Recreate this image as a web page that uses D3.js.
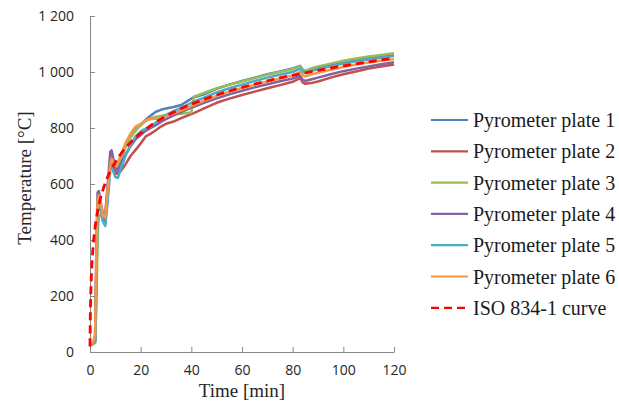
<!DOCTYPE html>
<html><head><meta charset="utf-8">
<script src="https://cdn.jsdelivr.net/npm/d3@7"></script>
<style>
html,body{margin:0;padding:0;background:#fff;}
svg{display:block;}
</style></head>
<body>
<svg id="chart" width="619" height="414"></svg>
<script>
// ---- data ----
const plateTimes = [0,1,2,2.5,3,3.5,4,5,6,7,8,8.5,9,10,11,12,14,16,18,20,22,24,26,28,30,33,36,40,41,45,50,55,60,65,70,75,80,83,84,85,88,90,95,100,105,110,115,120];
const plate1 = [25,28,40,300,520,545,530,470,455,560,680,695,670,640,645,680,740,770,795,810,830,845,858,865,870,875,882,905,910,920,940,955,968,980,992,1002,1013,1022,1008,1004,1010,1015,1025,1035,1043,1050,1056,1062];
const plate2 = [25,28,35,250,490,530,520,475,470,560,665,680,665,640,635,645,670,700,722,745,770,780,792,805,815,823,835,850,853,870,890,905,918,930,942,953,965,978,962,958,962,966,980,992,1002,1012,1020,1027];
const plate3 = [25,28,32,150,420,480,490,480,500,590,670,690,680,660,660,685,730,765,790,810,825,835,840,843,846,849,851,855,912,925,942,955,966,978,990,1000,1010,1020,1008,1005,1015,1020,1030,1040,1048,1055,1061,1067];
const plate4 = [25,28,45,380,570,575,545,500,480,600,715,720,700,655,650,670,705,735,760,775,790,800,810,822,832,845,857,873,876,890,906,920,933,945,956,967,977,986,972,968,975,980,992,1003,1012,1020,1028,1035];
const plate5 = [25,28,35,220,500,540,520,470,450,540,650,665,650,625,622,650,700,740,770,788,798,805,820,835,847,860,872,890,894,908,927,942,955,968,980,990,1000,1012,1000,997,1005,1010,1020,1030,1038,1045,1051,1057];
const plate6 = [25,30,60,350,540,560,550,490,480,580,670,690,685,665,675,700,745,780,805,815,828,832,833,836,842,852,862,878,882,898,915,930,943,955,966,977,988,1000,988,985,993,997,1008,1018,1027,1034,1040,1046];
const isoTimes = [0,0.1,0.25,0.5,0.75,1,1.5,2,3,4,5,6,7,8,10,12,15,17.5,20,25,30,35,40,45,50,55,60,65,70,75,80,85,90,95,100,105,110,115,120];
const isoCurve = [20,108,185,261,312,349,404,445,502,544,576,603,626,645,678,705,739,762,781,815,842,865,885,902,918,932,945,957,968,979,988,997,1006,1014,1022,1029,1036,1043,1049];
const seriesNames = ["Pyrometer plate 1","Pyrometer plate 2","Pyrometer plate 3","Pyrometer plate 4","Pyrometer plate 5","Pyrometer plate 6","ISO 834-1 curve"];
const xTicks = [0,20,40,60,80,100,120];
const yTicks = [0,200,400,600,800,1000,1200];
const xTitle = "Time [min]";
const yTitle = "Temperature [°C]";

// ---- styles ----
const colors = ["#4F81BD","#C0504D","#9BBB59","#8064A2","#4BACC6","#F79646","#FF0000"];
const axisColor = "#868686";

const svg = d3.select("#chart");
const m = {left:90, right:394, top:16, bottom:352};
const x = d3.scaleLinear().domain([0,120]).range([m.left,m.right]);
const y = d3.scaleLinear().domain([0,1200]).range([m.bottom,m.top]);

const fmt = d => d3.format(",")(d).replace(",", " ");

// axes
const xAxis = d3.axisBottom(x).tickValues(xTicks).tickSizeInner(-5).tickSizeOuter(0).tickPadding(13);
const yAxis = d3.axisLeft(y).tickValues(yTicks).tickSizeInner(-5).tickSizeOuter(0).tickPadding(16).tickFormat(fmt);

const gx = svg.append("g").attr("transform",`translate(0,${m.bottom})`).call(xAxis);
const gy = svg.append("g").attr("transform",`translate(${m.left},0)`).call(yAxis);
[gx,gy].forEach(g=>{
  g.selectAll("path.domain").attr("stroke",axisColor).attr("stroke-width",1);
  g.selectAll(".tick line").attr("stroke",axisColor).attr("stroke-width",1);
  g.selectAll(".tick text").attr("fill","#262626").style("font-family","'Open Sans', sans-serif").style("font-size","14px");
});

// titles
svg.append("text").attr("x",(m.left+m.right)/2).attr("y",397).attr("text-anchor","middle")
  .style("font-family","'Liberation Serif','Times New Roman',serif").style("font-size","19px").attr("fill","#262626").text(xTitle);
svg.append("text").attr("transform",`translate(31,${(m.top+m.bottom)/2 - 6}) rotate(-90)`).attr("text-anchor","middle")
  .style("font-family","'Liberation Serif','Times New Roman',serif").style("font-size","19px").attr("fill","#262626").text(yTitle);

// lines
const plates = [plate1,plate2,plate3,plate4,plate5,plate6];
const line = d3.line().x(d=>x(d[0])).y(d=>y(d[1]));
plates.forEach((vals,i)=>{
  svg.append("path").datum(plateTimes.map((t,j)=>[t,vals[j]]))
    .attr("fill","none").attr("stroke",colors[i]).attr("stroke-width",2.5)
    .attr("stroke-linejoin","round").attr("d",line);
});
svg.append("path").datum(isoTimes.map((t,j)=>[t,isoCurve[j]]))
  .attr("fill","none").attr("stroke",colors[6]).attr("stroke-width",2.8)
  .attr("stroke-dasharray","8,5").attr("d",d3.line().curve(d3.curveMonotoneX).x(d=>x(d[0])).y(d=>y(d[1])));

// legend
const lg = svg.append("g");
seriesNames.forEach((name,i)=>{
  const yy = 120 + i*31.3;
  lg.append("line").attr("x1",431).attr("x2",468).attr("y1",yy).attr("y2",yy)
    .attr("stroke",colors[i]).attr("stroke-width",2.2)
    .attr("stroke-dasharray", i===6 ? "8,5" : null);
  lg.append("text").attr("x",473).attr("y",yy).attr("dy","0.35em")
    .style("font-family","'Liberation Serif','Times New Roman',serif").style("font-size","20px").attr("fill","#1a1a1a").text(name);
});
</script>
</body></html>
